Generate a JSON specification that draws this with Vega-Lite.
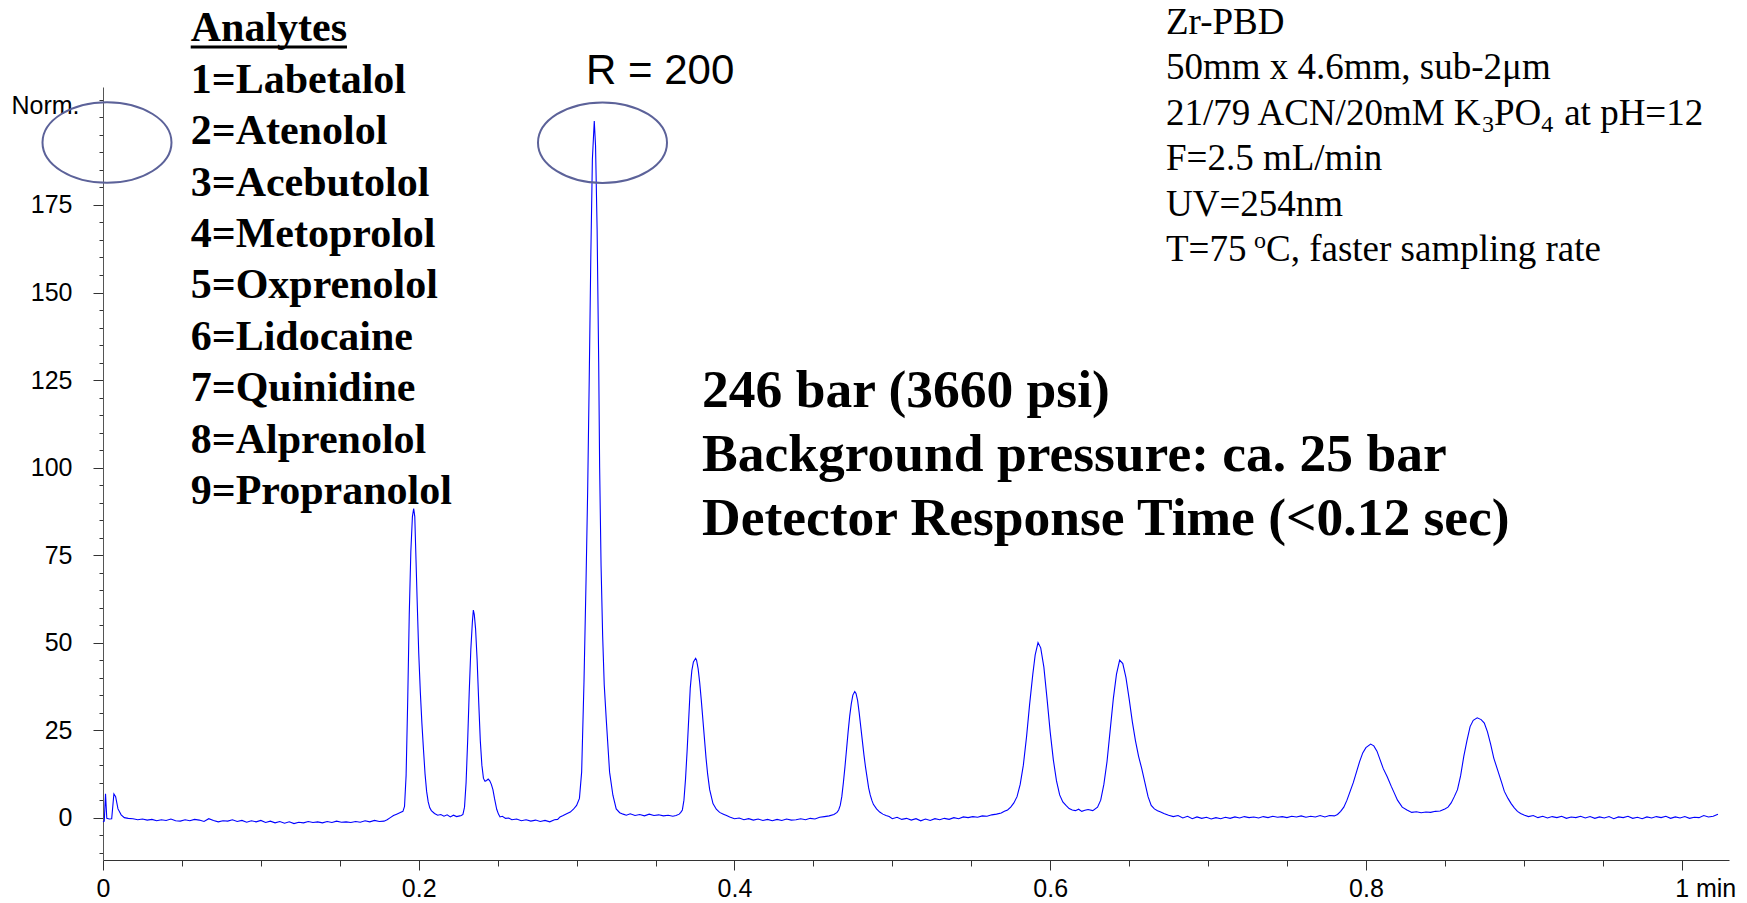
{
  "$schema": "https://vega.github.io/schema/vega-lite/v6.json",
  "width": 1626,
  "height": 773,
  "autosize": {"type": "none"},
  "padding": {"left": 103, "top": 87, "right": 18, "bottom": 43},
  "background": "white",
  "config": {"view": {"stroke": null}},
  "resolve": {"axis": {"x": "independent", "y": "independent"}},
  "layer": [
    {
      "data": {"values": [
        {"x":0.0000,"y":-1.2},{"x":0.0008,"y":-1.0},{"x":0.0016,"y":6.8},{"x":0.0024,"y":-0.2},{"x":0.0040,"y":-0.4},{"x":0.0055,"y":-0.3},{"x":0.0069,"y":6.8},{"x":0.0080,"y":6.0},{"x":0.0095,"y":2.5},{"x":0.0115,"y":0.8},{"x":0.0135,"y":0.0},
        {"x":0.016,"y":-0.2},{"x":0.019,"y":-0.3},{"x":0.022,"y":-0.6},{"x":0.025,"y":-0.4},{"x":0.028,"y":-0.7},{"x":0.031,"y":-0.5},{"x":0.034,"y":-0.9},{"x":0.037,"y":-0.6},{"x":0.040,"y":-0.8},{"x":0.043,"y":-0.4},{"x":0.046,"y":-0.9},{"x":0.049,"y":-1.0},{"x":0.052,"y":-0.6},{"x":0.055,"y":-0.9},{"x":0.058,"y":-0.5},{"x":0.061,"y":-0.7},{"x":0.064,"y":-1.1},{"x":0.067,"y":-0.3},{"x":0.070,"y":-0.8},{"x":0.073,"y":-1.2},{"x":0.076,"y":-0.9},{"x":0.079,"y":-1.0},{"x":0.082,"y":-0.6},{"x":0.085,"y":-1.1},{"x":0.088,"y":-0.8},{"x":0.091,"y":-1.3},{"x":0.094,"y":-0.9},{"x":0.097,"y":-1.2},{"x":0.100,"y":-0.8},{"x":0.103,"y":-1.4},{"x":0.106,"y":-1.0},{"x":0.109,"y":-1.5},{"x":0.112,"y":-1.1},{"x":0.115,"y":-1.6},{"x":0.118,"y":-1.2},{"x":0.121,"y":-1.7},{"x":0.124,"y":-1.3},{"x":0.127,"y":-1.5},{"x":0.130,"y":-1.1},{"x":0.133,"y":-1.4},{"x":0.136,"y":-1.2},{"x":0.139,"y":-1.5},{"x":0.142,"y":-1.1},{"x":0.145,"y":-1.4},{"x":0.148,"y":-1.0},{"x":0.151,"y":-1.3},{"x":0.154,"y":-1.2},{"x":0.157,"y":-1.4},{"x":0.160,"y":-1.1},{"x":0.163,"y":-1.3},{"x":0.166,"y":-0.9},{"x":0.169,"y":-1.2},{"x":0.172,"y":-0.8},{"x":0.175,"y":-1.1},{"x":0.178,"y":-1.0},{"x":0.180,"y":-0.6},{"x":0.182,"y":0.0},{"x":0.184,"y":0.6},{"x":0.186,"y":1.0},{"x":0.188,"y":1.4},{"x":0.190,"y":1.8},
        {"x":0.191,"y":3.2},{"x":0.192,"y":12},{"x":0.193,"y":33},{"x":0.194,"y":58},{"x":0.195,"y":76},{"x":0.196,"y":86},{"x":0.1968,"y":88.3},{"x":0.1975,"y":86},{"x":0.198,"y":78},{"x":0.199,"y":62},{"x":0.200,"y":47},{"x":0.201,"y":36},{"x":0.202,"y":27},{"x":0.203,"y":19.5},{"x":0.204,"y":12.5},{"x":0.205,"y":7.5},{"x":0.206,"y":4.5},{"x":0.207,"y":2.8},{"x":0.208,"y":2.0},{"x":0.210,"y":1.2},{"x":0.212,"y":0.7},{"x":0.214,"y":0.9},{"x":0.216,"y":0.4},{"x":0.218,"y":0.8},{"x":0.220,"y":0.2},{"x":0.222,"y":0.7},{"x":0.224,"y":0.3},{"x":0.226,"y":0.5},{"x":0.227,"y":0.6},{"x":0.228,"y":0.9},
        {"x":0.229,"y":3},{"x":0.230,"y":10},{"x":0.231,"y":22},{"x":0.232,"y":36},{"x":0.233,"y":48},{"x":0.234,"y":56},{"x":0.2346,"y":59.3},{"x":0.2352,"y":58},{"x":0.236,"y":54},{"x":0.237,"y":45},{"x":0.238,"y":33},{"x":0.239,"y":22},{"x":0.240,"y":15},{"x":0.241,"y":11.2},{"x":0.242,"y":10.4},{"x":0.243,"y":10.6},{"x":0.244,"y":11.0},{"x":0.245,"y":10.5},{"x":0.246,"y":9.5},{"x":0.247,"y":8},{"x":0.248,"y":5.5},{"x":0.2494,"y":2.4},{"x":0.2505,"y":1.0},{"x":0.2515,"y":0.2},{"x":0.253,"y":0.4},{"x":0.255,"y":-0.2},{"x":0.257,"y":-0.1},{"x":0.259,"y":-0.6},{"x":0.262,"y":-0.4},{"x":0.265,"y":-0.9},{"x":0.268,"y":-0.6},{"x":0.271,"y":-1.0},{"x":0.274,"y":-0.7},{"x":0.277,"y":-1.1},{"x":0.280,"y":-0.8},{"x":0.283,"y":-1.2},{"x":0.286,"y":-0.6},{"x":0.288,"y":-0.5},
        {"x":0.2895,"y":0.2},{"x":0.2915,"y":0.6},{"x":0.2937,"y":1.1},{"x":0.296,"y":1.6},{"x":0.298,"y":2.4},{"x":0.300,"y":3.5},{"x":0.3018,"y":5.5},{"x":0.3032,"y":13},{"x":0.3047,"y":39},{"x":0.306,"y":68},{"x":0.307,"y":93},{"x":0.308,"y":125},{"x":0.309,"y":160},{"x":0.310,"y":188},{"x":0.3112,"y":199},{"x":0.312,"y":192},{"x":0.313,"y":168},{"x":0.314,"y":130},{"x":0.3146,"y":100},{"x":0.3155,"y":72},{"x":0.3165,"y":52},{"x":0.3175,"y":38},{"x":0.3188,"y":28},{"x":0.3209,"y":13},{"x":0.323,"y":6.4},{"x":0.3251,"y":2.5},{"x":0.3273,"y":1.4},{"x":0.3295,"y":1.0},{"x":0.3315,"y":0.7},{"x":0.334,"y":1.1},{"x":0.337,"y":0.6},{"x":0.340,"y":0.9},{"x":0.343,"y":0.5},{"x":0.346,"y":1.0},{"x":0.349,"y":0.6},{"x":0.352,"y":0.8},{"x":0.355,"y":0.5},{"x":0.358,"y":0.7},{"x":0.361,"y":0.4},{"x":0.363,"y":0.6},
        {"x":0.365,"y":1.0},{"x":0.366,"y":1.5},{"x":0.367,"y":2.2},{"x":0.368,"y":5},{"x":0.369,"y":11},{"x":0.370,"y":19},{"x":0.371,"y":28},{"x":0.372,"y":37},{"x":0.373,"y":42},{"x":0.374,"y":44.5},{"x":0.3754,"y":45.5},{"x":0.376,"y":45},{"x":0.377,"y":42.5},{"x":0.378,"y":38.5},{"x":0.379,"y":33.5},{"x":0.380,"y":28},{"x":0.381,"y":22.5},{"x":0.382,"y":17},{"x":0.383,"y":12.5},{"x":0.3843,"y":8},{"x":0.3864,"y":4},{"x":0.3885,"y":2.4},{"x":0.3906,"y":1.5},{"x":0.393,"y":1.0},{"x":0.395,"y":0.6},{"x":0.397,"y":0.2},
        {"x":0.400,"y":-0.3},{"x":0.403,"y":-0.1},{"x":0.406,"y":-0.6},{"x":0.409,"y":-0.3},{"x":0.412,"y":-0.7},{"x":0.415,"y":-0.4},{"x":0.418,"y":-0.8},{"x":0.421,"y":-0.5},{"x":0.424,"y":-0.9},{"x":0.427,"y":-0.5},{"x":0.430,"y":-0.8},{"x":0.433,"y":-0.4},{"x":0.436,"y":-0.7},{"x":0.439,"y":-0.6},{"x":0.442,"y":-0.3},{"x":0.445,"y":-0.6},{"x":0.448,"y":-0.2},{"x":0.451,"y":-0.4},{"x":0.454,"y":0.1},{"x":0.457,"y":0.3},{"x":0.460,"y":0.5},{"x":0.463,"y":0.9},
        {"x":0.465,"y":1.5},{"x":0.466,"y":2.2},{"x":0.467,"y":3.5},{"x":0.468,"y":6},{"x":0.469,"y":10},{"x":0.470,"y":14.5},{"x":0.471,"y":19.5},{"x":0.472,"y":24.5},{"x":0.473,"y":29},{"x":0.474,"y":32.5},{"x":0.475,"y":35},{"x":0.4762,"y":36},{"x":0.477,"y":35.5},{"x":0.478,"y":33.5},{"x":0.479,"y":30},{"x":0.480,"y":26},{"x":0.481,"y":22},{"x":0.482,"y":18},{"x":0.483,"y":14.5},{"x":0.484,"y":11.5},{"x":0.485,"y":8.5},{"x":0.486,"y":6.5},{"x":0.487,"y":5},{"x":0.488,"y":3.8},{"x":0.490,"y":2.5},{"x":0.492,"y":1.6},{"x":0.494,"y":1.0},{"x":0.496,"y":0.6},{"x":0.498,"y":0.3},
        {"x":0.500,"y":-0.3},{"x":0.503,"y":0.1},{"x":0.506,"y":-0.5},{"x":0.509,"y":-0.2},{"x":0.512,"y":-0.7},{"x":0.515,"y":-0.3},{"x":0.518,"y":-0.9},{"x":0.521,"y":-0.4},{"x":0.524,"y":-0.8},{"x":0.527,"y":-0.3},{"x":0.530,"y":-0.6},{"x":0.533,"y":-0.2},{"x":0.536,"y":-0.5},{"x":0.539,"y":0.0},{"x":0.542,"y":-0.3},{"x":0.545,"y":0.2},{"x":0.548,"y":0.0},{"x":0.551,"y":0.3},{"x":0.554,"y":0.1},{"x":0.557,"y":0.5},{"x":0.560,"y":0.4},{"x":0.563,"y":0.8},{"x":0.566,"y":1.0},{"x":0.569,"y":1.3},
        {"x":0.571,"y":1.8},{"x":0.573,"y":2.2},{"x":0.575,"y":3.0},{"x":0.577,"y":4.2},{"x":0.579,"y":6.0},{"x":0.581,"y":9.5},{"x":0.583,"y":15},{"x":0.585,"y":23},{"x":0.587,"y":32.5},{"x":0.589,"y":41},{"x":0.5905,"y":46.5},{"x":0.5923,"y":50},{"x":0.594,"y":48.5},{"x":0.596,"y":43},{"x":0.598,"y":34},{"x":0.600,"y":24.5},{"x":0.602,"y":16.5},{"x":0.604,"y":10.5},{"x":0.606,"y":6.5},{"x":0.608,"y":4.5},{"x":0.610,"y":3.5},{"x":0.612,"y":2.6},{"x":0.614,"y":2.2},{"x":0.616,"y":2.0},{"x":0.618,"y":2.4},{"x":0.620,"y":1.8},{"x":0.622,"y":2.1},{"x":0.624,"y":2.3},{"x":0.627,"y":2.0},
        {"x":0.630,"y":3.0},{"x":0.632,"y":5},{"x":0.634,"y":9.5},{"x":0.636,"y":16},{"x":0.638,"y":25},{"x":0.640,"y":34},{"x":0.642,"y":41},{"x":0.644,"y":45},{"x":0.646,"y":44},{"x":0.648,"y":40},{"x":0.650,"y":34},{"x":0.652,"y":27.5},{"x":0.654,"y":22},{"x":0.656,"y":17.5},{"x":0.658,"y":14},{"x":0.660,"y":10},{"x":0.662,"y":6},{"x":0.664,"y":3.5},{"x":0.666,"y":2.5},{"x":0.668,"y":2.0},{"x":0.670,"y":1.6},{"x":0.672,"y":1.2},{"x":0.675,"y":0.7},{"x":0.678,"y":0.3},
        {"x":0.681,"y":0.6},{"x":0.684,"y":-0.1},{"x":0.687,"y":0.4},{"x":0.690,"y":-0.3},{"x":0.693,"y":0.2},{"x":0.696,"y":-0.2},{"x":0.699,"y":0.1},{"x":0.702,"y":-0.4},{"x":0.705,"y":0.0},{"x":0.708,"y":-0.3},{"x":0.711,"y":0.1},{"x":0.714,"y":-0.2},{"x":0.717,"y":0.2},{"x":0.720,"y":-0.1},{"x":0.723,"y":0.3},{"x":0.726,"y":0.0},{"x":0.729,"y":0.2},{"x":0.732,"y":-0.1},{"x":0.735,"y":0.3},{"x":0.738,"y":0.0},{"x":0.741,"y":0.4},{"x":0.744,"y":0.1},{"x":0.747,"y":0.3},{"x":0.750,"y":0.0},{"x":0.753,"y":0.4},{"x":0.756,"y":0.2},{"x":0.759,"y":0.5},{"x":0.762,"y":0.1},{"x":0.765,"y":0.4},{"x":0.768,"y":0.2},{"x":0.771,"y":0.6},{"x":0.774,"y":0.2},{"x":0.777,"y":0.6},{"x":0.780,"y":0.5},
        {"x":0.782,"y":0.9},{"x":0.784,"y":1.8},{"x":0.786,"y":3},{"x":0.788,"y":5},{"x":0.790,"y":7.5},{"x":0.792,"y":10},{"x":0.794,"y":13},{"x":0.796,"y":16},{"x":0.798,"y":18.5},{"x":0.800,"y":20},{"x":0.803,"y":21},{"x":0.805,"y":20.5},{"x":0.807,"y":19},{"x":0.809,"y":16.5},{"x":0.811,"y":14},{"x":0.8135,"y":11.7},{"x":0.816,"y":9},{"x":0.818,"y":7},{"x":0.820,"y":5},{"x":0.823,"y":3},{"x":0.826,"y":2.2},{"x":0.829,"y":1.5},{"x":0.832,"y":1.7},{"x":0.835,"y":1.4},{"x":0.838,"y":1.6},{"x":0.841,"y":1.5},{"x":0.844,"y":1.8},{"x":0.847,"y":1.9},{"x":0.850,"y":2.5},
        {"x":0.852,"y":3.0},{"x":0.854,"y":4.2},{"x":0.856,"y":6},{"x":0.858,"y":8},{"x":0.860,"y":12},{"x":0.862,"y":17.5},{"x":0.864,"y":22},{"x":0.866,"y":26},{"x":0.868,"y":27.8},{"x":0.8705,"y":28.5},{"x":0.873,"y":28},{"x":0.875,"y":27},{"x":0.877,"y":24.5},{"x":0.879,"y":21},{"x":0.881,"y":17},{"x":0.8835,"y":13.5},{"x":0.886,"y":10},{"x":0.8877,"y":7.5},{"x":0.890,"y":5.5},{"x":0.892,"y":4},{"x":0.894,"y":2.8},{"x":0.896,"y":1.8},{"x":0.898,"y":1.2},{"x":0.9005,"y":0.7},
        {"x":0.903,"y":0.3},{"x":0.906,"y":0.6},{"x":0.909,"y":0.0},{"x":0.912,"y":0.4},{"x":0.915,"y":-0.1},{"x":0.918,"y":0.3},{"x":0.921,"y":0.0},{"x":0.924,"y":0.4},{"x":0.927,"y":-0.2},{"x":0.930,"y":0.2},{"x":0.933,"y":0.0},{"x":0.936,"y":0.4},{"x":0.939,"y":-0.1},{"x":0.942,"y":0.3},{"x":0.945,"y":-0.2},{"x":0.948,"y":0.2},{"x":0.951,"y":-0.1},{"x":0.954,"y":0.3},{"x":0.957,"y":-0.3},{"x":0.960,"y":0.2},{"x":0.963,"y":0.0},{"x":0.966,"y":0.4},{"x":0.969,"y":-0.2},{"x":0.972,"y":0.1},{"x":0.975,"y":-0.3},{"x":0.978,"y":0.2},{"x":0.981,"y":-0.1},{"x":0.984,"y":0.3},{"x":0.987,"y":0.0},{"x":0.990,"y":0.4},{"x":0.993,"y":-0.2},{"x":0.996,"y":0.2},{"x":0.999,"y":-0.1},{"x":1.002,"y":0.3},{"x":1.005,"y":-0.2},{"x":1.008,"y":0.1},{"x":1.011,"y":0.0},{"x":1.014,"y":0.6},{"x":1.017,"y":0.2},{"x":1.020,"y":0.4},{"x":1.023,"y":1.0}
      ]},
      "mark": {"type": "line", "color": "#0000ff", "strokeWidth": 1.1, "interpolate": "linear"},
      "encoding": {
        "x": {"field": "x", "type": "quantitative",
          "scale": {"domain": [0, 1.03], "nice": false, "zero": false},
          "axis": {
            "orient": "bottom", "title": null, "grid": false,
            "values": [0,0.05,0.1,0.15,0.2,0.25,0.3,0.35,0.4,0.45,0.5,0.55,0.6,0.65,0.7,0.75,0.8,0.85,0.9,0.95,1],
            "domainColor": "#333333", "domainWidth": 1, "tickColor": "#333333", "tickWidth": 1,
            "tickSize": {"condition": {"test": "abs(datum.value*5 - round(datum.value*5)) < 0.001", "value": 10}, "value": 6},
            "labelExpr": "abs(datum.value*5 - round(datum.value*5)) < 0.001 ? (datum.value > 0.99 ? '1 min' : (datum.value < 0.01 ? '0' : format(datum.value, '.1f'))) : ''",
            "labelFont": "Liberation Sans", "labelFontSize": 25, "labelColor": "#000000", "labelPadding": 6,
            "labelAlign": {"condition": {"test": "datum.value > 0.99", "value": "left"}, "value": "center"},
            "labelOffset": {"condition": {"test": "datum.value > 0.99", "value": -7}, "value": 0},
            "labelOverlap": false, "labelFlush": false, "labelBound": false
          }
        },
        "y": {"field": "y", "type": "quantitative",
          "scale": {"domain": [-12.1, 208.7], "nice": false, "zero": false},
          "axis": {
            "orient": "left",
            "title": "Norm.", "titleAngle": 0, "titleAlign": "left", "titleBaseline": "alphabetic",
            "titleX": -92, "titleY": 26, "titleFont": "Liberation Sans", "titleFontSize": 25, "titleFontWeight": "normal", "titleColor": "#000000",
            "grid": false,
            "values": [-10,-5,0,5,10,15,20,25,30,35,40,45,50,55,60,65,70,75,80,85,90,95,100,105,110,115,120,125,130,135,140,145,150,155,160,165,170,175,180,185,190,195,200,205],
            "domainColor": "#555555", "domainWidth": 1, "tickColor": "#333333", "tickWidth": 1,
            "tickSize": {"condition": {"test": "datum.value % 25 === 0 && datum.value >= 0 && datum.value <= 175", "value": 10}, "value": 4},
            "labelExpr": "datum.value % 25 === 0 && datum.value >= 0 && datum.value <= 175 ? datum.label : ''",
            "labelFont": "Liberation Sans", "labelFontSize": 25, "labelColor": "#000000", "labelPadding": 21,
            "labelOverlap": false, "labelFlush": false, "labelBound": false
          }
        }
      }
    },
    {
      "data": {"values": [{}]},
      "mark": {"type": "point", "shape": "M1,0C1,0.3452 0.5523,0.625 0,0.625C-0.5523,0.625 -1,0.3452 -1,0C-1,-0.3452 -0.5523,-0.625 0,-0.625C0.5523,-0.625 1,-0.3452 1,0Z", "size": 16641, "filled": false, "stroke": "#5c6299", "strokeWidth": 2, "opacity": 1},
      "encoding": {
        "x": {"datum": 0.00253, "type": "quantitative", "axis": null},
        "y": {"datum": 192.85, "type": "quantitative", "axis": null}
      }
    },
    {
      "data": {"values": [{}]},
      "mark": {"type": "point", "shape": "M1,0C1,0.3452 0.5523,0.625 0,0.625C-0.5523,0.625 -1,0.3452 -1,0C-1,-0.3452 -0.5523,-0.625 0,-0.625C0.5523,-0.625 1,-0.3452 1,0Z", "size": 16641, "filled": false, "stroke": "#5c6299", "strokeWidth": 2, "opacity": 1},
      "encoding": {
        "x": {"datum": 0.31641, "type": "quantitative", "axis": null},
        "y": {"datum": 192.79, "type": "quantitative", "axis": null}
      }
    },
    {
      "data": {"values": [{}]},
      "mark": {"type": "text", "font": "Liberation Serif", "fontWeight": "bold", "fontSize": 42, "align": "left", "baseline": "alphabetic", "lineHeight": 51.4, "color": "#000000"},
      "encoding": {
        "x": {"datum": 0.05556, "type": "quantitative", "axis": null},
        "y": {"datum": 221.70, "type": "quantitative", "axis": null},
        "text": {"value": ["Analytes", "1=Labetalol", "2=Atenolol", "3=Acebutolol", "4=Metoprolol", "5=Oxprenolol", "6=Lidocaine", "7=Quinidine", "8=Alprenolol", "9=Propranolol"]}
      }
    },
    {
      "data": {"values": [{}]},
      "mark": {"type": "rule", "color": "#000000", "strokeWidth": 3},
      "encoding": {
        "x": {"datum": 0.05556, "type": "quantitative", "axis": null},
        "x2": {"datum": 0.15456},
        "y": {"datum": 220.13, "type": "quantitative", "axis": null}
      }
    },
    {
      "data": {"values": [{}]},
      "mark": {"type": "text", "font": "Liberation Sans", "fontSize": 42, "align": "left", "baseline": "alphabetic", "color": "#000000"},
      "encoding": {
        "x": {"datum": 0.30600, "type": "quantitative", "axis": null},
        "y": {"datum": 209.55, "type": "quantitative", "axis": null},
        "text": {"value": "R = 200"}
      }
    },
    {
      "data": {"values": [{}]},
      "mark": {"type": "text", "font": "Liberation Serif", "fontSize": 37, "align": "left", "baseline": "alphabetic", "lineHeight": 45.5, "color": "#000000"},
      "encoding": {
        "x": {"datum": 0.67336, "type": "quantitative", "axis": null},
        "y": {"datum": 223.84, "type": "quantitative", "axis": null},
        "text": {"value": ["Zr-PBD", "50mm x 4.6mm, sub-2μm", "21/79 ACN/20mM K", "F=2.5 mL/min", "UV=254nm", "T=75"]}
      }
    },
    {
      "data": {"values": [{}]},
      "mark": {"type": "text", "font": "Liberation Serif", "fontSize": 24, "align": "left", "baseline": "alphabetic", "color": "#000000"},
      "encoding": {
        "x": {"datum": 0.87354, "type": "quantitative", "axis": null},
        "y": {"datum": 195.85, "type": "quantitative", "axis": null},
        "text": {"value": "3"}
      }
    },
    {
      "data": {"values": [{}]},
      "mark": {"type": "text", "font": "Liberation Serif", "fontSize": 37, "align": "left", "baseline": "alphabetic", "color": "#000000"},
      "encoding": {
        "x": {"datum": 0.88114, "type": "quantitative", "axis": null},
        "y": {"datum": 197.85, "type": "quantitative", "axis": null},
        "text": {"value": "PO"}
      }
    },
    {
      "data": {"values": [{}]},
      "mark": {"type": "text", "font": "Liberation Serif", "fontSize": 24, "align": "left", "baseline": "alphabetic", "color": "#000000"},
      "encoding": {
        "x": {"datum": 0.91110, "type": "quantitative", "axis": null},
        "y": {"datum": 195.85, "type": "quantitative", "axis": null},
        "text": {"value": "4"}
      }
    },
    {
      "data": {"values": [{}]},
      "mark": {"type": "text", "font": "Liberation Serif", "fontSize": 37, "align": "left", "baseline": "alphabetic", "color": "#000000"},
      "encoding": {
        "x": {"datum": 0.92560, "type": "quantitative", "axis": null},
        "y": {"datum": 197.85, "type": "quantitative", "axis": null},
        "text": {"value": "at pH=12"}
      }
    },
    {
      "data": {"values": [{}]},
      "mark": {"type": "text", "font": "Liberation Serif", "fontSize": 24, "align": "left", "baseline": "alphabetic", "color": "#000000"},
      "encoding": {
        "x": {"datum": 0.72911, "type": "quantitative", "axis": null},
        "y": {"datum": 162.57, "type": "quantitative", "axis": null},
        "text": {"value": "o"}
      }
    },
    {
      "data": {"values": [{}]},
      "mark": {"type": "text", "font": "Liberation Serif", "fontSize": 37, "align": "left", "baseline": "alphabetic", "color": "#000000"},
      "encoding": {
        "x": {"datum": 0.73671, "type": "quantitative", "axis": null},
        "y": {"datum": 158.86, "type": "quantitative", "axis": null},
        "text": {"value": "C, faster sampling rate"}
      }
    },
    {
      "data": {"values": [{}]},
      "mark": {"type": "text", "font": "Liberation Serif", "fontWeight": "bold", "fontSize": 53.5, "align": "left", "baseline": "alphabetic", "lineHeight": 64, "color": "#000000"},
      "encoding": {
        "x": {"datum": 0.37950, "type": "quantitative", "axis": null},
        "y": {"datum": 117.30, "type": "quantitative", "axis": null},
        "text": {"value": ["246 bar (3660 psi)", "Background pressure: ca. 25 bar", "Detector Response Time (<0.12 sec)"]}
      }
    }
  ]
}
